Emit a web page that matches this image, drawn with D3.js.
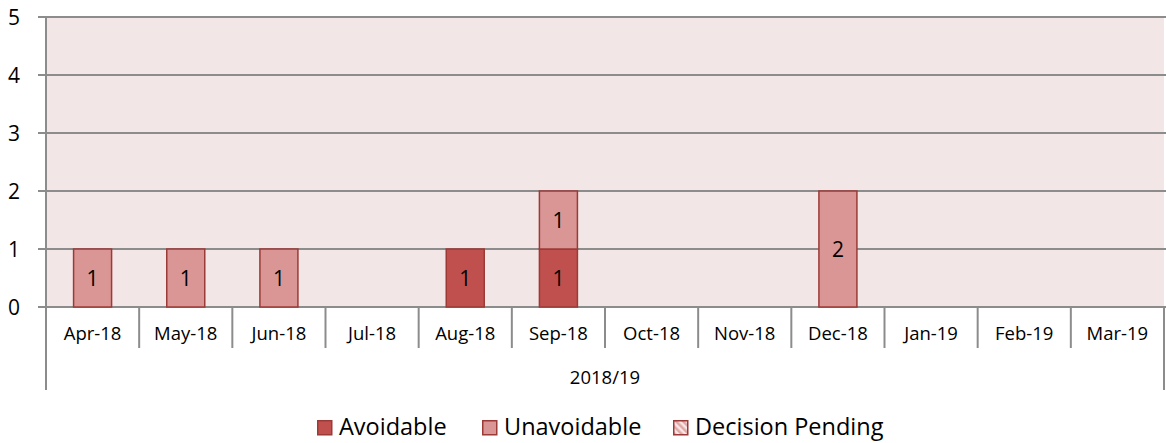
<!DOCTYPE html>
<html>
<head>
<meta charset="utf-8">
<script src="https://cdn.jsdelivr.net/npm/d3@7"></script>
<style>
  body { margin: 0; background: #fff; }
  text { font-family: "Open Sans", "Noto Sans", sans-serif; fill: #000; }
</style>
</head>
<body>
<svg id="chart" width="1166" height="443"></svg>
<script>
// data
const MONTHS = ["Apr-18", "May-18", "Jun-18", "Jul-18", "Aug-18", "Sep-18",
                "Oct-18", "Nov-18", "Dec-18", "Jan-19", "Feb-19", "Mar-19"];
const AVOIDABLE = [0, 0, 0, 0, 1, 1, 0, 0, 0, 0, 0, 0];
const UNAVOIDABLE = [1, 1, 1, 0, 0, 1, 0, 0, 2, 0, 0, 0];
const PENDING = [0, 0, 0, 0, 0, 0, 0, 0, 0, 0, 0, 0];
const SERIES = ["Avoidable", "Unavoidable", "Decision Pending"];
const Y_TICKS = [0, 1, 2, 3, 4, 5];
const GROUP_LABEL = "2018/19";

const M = { left: 46, right: 1164, top: 17, bottom: 307 };
const FILLS = { "Avoidable": "#c0504d", "Unavoidable": "#d99694", "Decision Pending": "url(#hatch)" };
const STROKE = "#9b3a37";

const svg = d3.select("#chart");

// hatch pattern for pending
const defs = svg.append("defs");
const pat = defs.append("pattern").attr("id", "hatch")
  .attr("width", 5).attr("height", 5)
  .attr("patternUnits", "userSpaceOnUse")
  .attr("patternTransform", "rotate(-45)");
pat.append("rect").attr("width", 5).attr("height", 5).attr("fill", "#f7e6e6");
pat.append("rect").attr("width", 2.5).attr("height", 5).attr("fill", "#e0a8a6");

const x = d3.scaleBand().domain(MONTHS).range([M.left, M.right]);
const y = d3.scaleLinear().domain([0, 5]).range([M.bottom, M.top]);

// plot background
svg.append("rect")
  .attr("x", M.left).attr("y", M.top)
  .attr("width", M.right - M.left).attr("height", M.bottom - M.top)
  .attr("fill", "#f2e6e6");

// gridlines + y ticks
svg.append("g").selectAll("line")
  .data(Y_TICKS)
  .join("line")
  .attr("x1", M.left - 8).attr("x2", M.right + 2)
  .attr("y1", d => y(d)).attr("y2", d => y(d))
  .attr("stroke", "#8c8c8c").attr("stroke-width", 2);

svg.append("g").selectAll("text")
  .data(Y_TICKS)
  .join("text")
  .attr("x", 14).attr("y", d => y(d))
  .attr("dy", "0.36em")
  .attr("text-anchor", "middle")
  .attr("font-size", 21)
  .text(d => d);

// stacked bars
const rows = MONTHS.map((m, i) => ({
  month: m, "Avoidable": AVOIDABLE[i], "Unavoidable": UNAVOIDABLE[i], "Decision Pending": PENDING[i]
}));
const stack = d3.stack().keys(SERIES)(rows);
const barW = 38;

const layers = svg.append("g").selectAll("g")
  .data(stack)
  .join("g")
  .attr("fill", d => FILLS[d.key]);

layers.selectAll("rect")
  .data(d => d.filter(s => s[1] - s[0] > 0))
  .join("rect")
  .attr("x", d => x(d.data.month) + x.bandwidth() / 2 - barW / 2)
  .attr("y", d => y(d[1]))
  .attr("width", barW)
  .attr("height", d => y(d[0]) - y(d[1]))
  .attr("stroke", STROKE)
  .attr("stroke-width", 1.5);

layers.selectAll("text")
  .data(d => d.filter(s => s[1] - s[0] > 0))
  .join("text")
  .attr("x", d => x(d.data.month) + x.bandwidth() / 2)
  .attr("y", d => (y(d[0]) + y(d[1])) / 2)
  .attr("dy", "0.36em")
  .attr("text-anchor", "middle")
  .attr("font-size", 21)
  .text(d => d[1] - d[0]);

// category axis
const axis = svg.append("g");
axis.append("line")
  .attr("x1", M.left).attr("x2", M.left)
  .attr("y1", M.top).attr("y2", 390)
  .attr("stroke", "#8c8c8c").attr("stroke-width", 2);
axis.append("line")
  .attr("x1", M.right).attr("x2", M.right)
  .attr("y1", M.bottom).attr("y2", 390)
  .attr("stroke", "#8c8c8c").attr("stroke-width", 2);
axis.selectAll(".tick")
  .data(MONTHS.slice(1))
  .join("line")
  .attr("x1", d => x(d)).attr("x2", d => x(d))
  .attr("y1", M.bottom).attr("y2", 348)
  .attr("stroke", "#8c8c8c").attr("stroke-width", 2);
axis.selectAll(".lbl")
  .data(MONTHS)
  .join("text")
  .attr("x", d => x(d) + x.bandwidth() / 2)
  .attr("y", 340)
  .attr("text-anchor", "middle")
  .attr("font-size", 18.5)
  .text(d => d);
axis.append("text")
  .attr("x", (M.left + M.right) / 2)
  .attr("y", 384)
  .attr("text-anchor", "middle")
  .attr("font-size", 18.5)
  .text(GROUP_LABEL);

// legend
const legX = [317, 482, 673];
const leg = svg.append("g").selectAll("g")
  .data(SERIES)
  .join("g")
  .attr("transform", (d, i) => `translate(${legX[i]}, 420)`);
leg.append("rect")
  .attr("x", 0.75).attr("y", 0.75)
  .attr("width", 14).attr("height", 14)
  .attr("fill", d => FILLS[d])
  .attr("stroke", STROKE).attr("stroke-width", 1.5);
leg.append("text")
  .attr("x", 22).attr("y", 15)
  .attr("font-size", 23.5)
  .text(d => d);
</script>
</body>
</html>
